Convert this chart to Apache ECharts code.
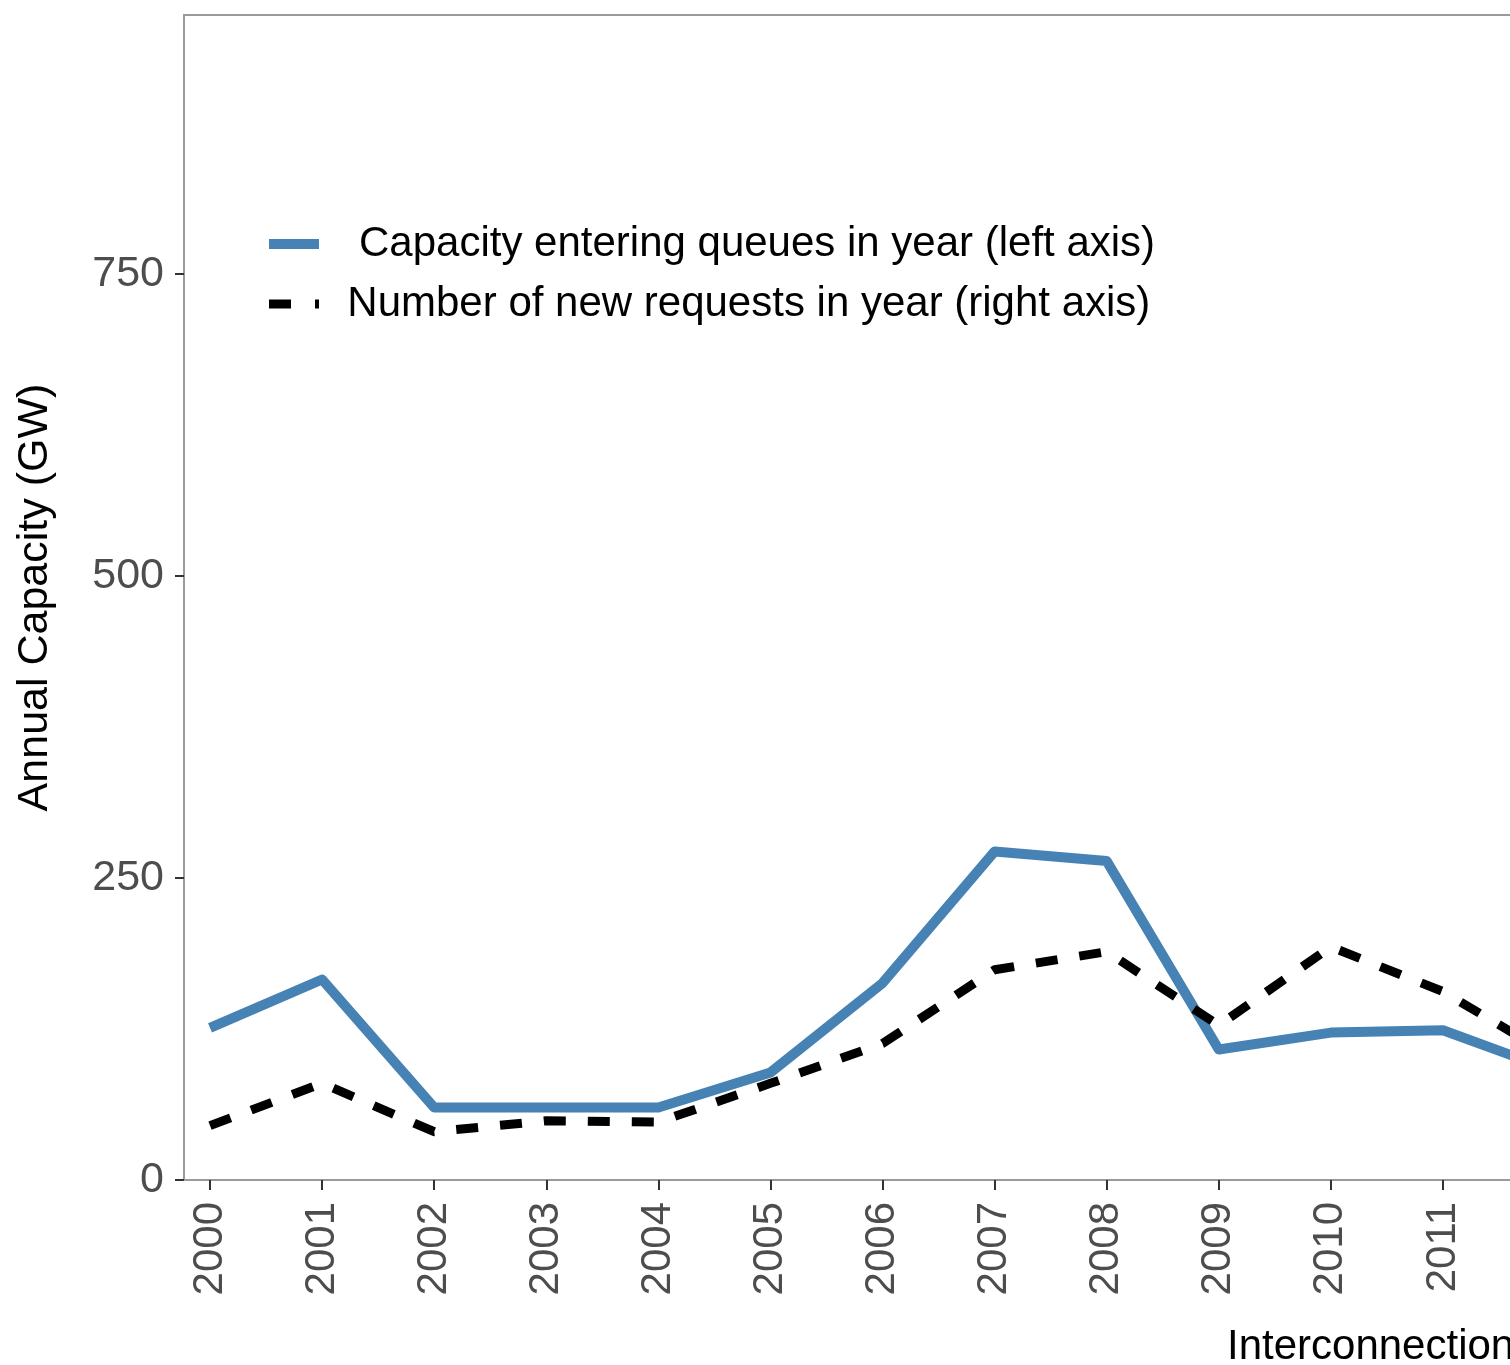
<!DOCTYPE html>
<html>
<head>
<meta charset="utf-8">
<script src="https://cdn.jsdelivr.net/npm/echarts@6/dist/echarts.min.js"></script>
<style>
  html, body { margin: 0; padding: 0; overflow: hidden; background: #fff; }
  #chart { width: 1510px; height: 1365px; }
</style>
</head>
<body>
<div id="chart"></div>
<script>
// Data (only 2000-2011 visible; 2012 estimated from the line leaving the frame)
const years = [2000, 2001, 2002, 2003, 2004, 2005, 2006, 2007, 2008, 2009, 2010, 2011, 2012];
const capacityGW = [126, 166, 60, 60, 60, 89, 163, 272, 264, 108, 122, 124, 90];
const newRequests = [225, 400, 200, 245, 240, 400, 565, 870, 945, 640, 965, 780, 505];
const leftTicks = [0, 250, 500, 750];
const xTicks = [2000, 2001, 2002, 2003, 2004, 2005, 2006, 2007, 2008, 2009, 2010, 2011, 2012];
const seriesNames = ['Capacity entering queues in year (left axis)', 'Number of new requests in year (right axis)'];
const yTitle = 'Annual Capacity (GW)';
const xTitle = 'Interconnection';

const FONT = '"Liberation Sans", Arial, Helvetica, sans-serif';
const leftMax = 964.4;
const rightMax = leftMax * 5;

const chart = echarts.init(document.getElementById('chart'), null, { renderer: 'canvas' });

const option = {
  backgroundColor: '#ffffff',
  animation: false,
  grid: {
    left: 184, top: 15, right: -2, bottom: 185,
    outerBoundsMode: 'none', containLabel: false,
    show: true, borderColor: '#9a9a9a', borderWidth: 2, backgroundColor: 'transparent'
  },
  legend: {
    orient: 'vertical',
    left: 264, top: 220,
    padding: 0,
    itemWidth: 50, itemHeight: 12, itemGap: 12,
    lineStyle: { width: 10 },
    itemStyle: { opacity: 0 },
    textStyle: { fontFamily: FONT, fontSize: 42, lineHeight: 48, color: '#000' },
    formatter: function (name) { return (name === seriesNames[0] ? '   ' : '  ') + name; },
    data: [
      { name: seriesNames[0] },
      { name: seriesNames[1], lineStyle: { type: [22, 24], width: 9 } }
    ]
  },
  xAxis: {
    type: 'value',
    min: 1999.768, max: 2011.598 + 2 / 112.09,
    axisLine: { show: false },
    splitLine: { show: false },
    axisTick: { show: true, customValues: xTicks, length: 10, lineStyle: { color: '#333', width: 2 } },
    axisLabel: {
      customValues: xTicks, rotate: 90, margin: 22,
      fontFamily: FONT, fontSize: 42, color: '#4d4d4d',
      formatter: function (v) { return String(Math.round(v)); }
    }
  },
  yAxis: [
    {
      type: 'value', min: 0, max: leftMax,
      name: yTitle, nameLocation: 'middle', nameGap: 127,
      nameTextStyle: { fontFamily: FONT, fontSize: 43, color: '#000' },
      axisLine: { show: false },
      splitLine: { show: false },
      axisTick: { show: true, customValues: leftTicks, length: 9, lineStyle: { color: '#333', width: 2 } },
      axisLabel: { customValues: leftTicks, margin: 20, fontFamily: FONT, fontSize: 43, color: '#4d4d4d' }
    },
    {
      type: 'value', min: 0, max: rightMax, position: 'right', show: false,
      splitLine: { show: false }
    }
  ],
  series: [
    {
      name: seriesNames[0], type: 'line', yAxisIndex: 0,
      data: years.map((y, i) => [y, capacityGW[i]]),
      symbol: 'none', clip: true,
      lineStyle: { color: '#4682B4', width: 10, join: 'round', cap: 'butt' },
      itemStyle: { color: '#4682B4' }
    },
    {
      name: seriesNames[1], type: 'line', yAxisIndex: 1,
      data: years.map((y, i) => [y, newRequests[i]]),
      symbol: 'none', clip: true,
      lineStyle: { color: '#000', width: 9, type: [22, 22], join: 'round', cap: 'butt' },
      itemStyle: { color: '#000' }
    }
  ],
  graphic: [
    {
      type: 'text', left: 1227, top: 1326,
      style: { text: xTitle, fontFamily: FONT, fontSize: 42, fill: '#000' }
    }
  ]
};

chart.setOption(option);
</script>
</body>
</html>
